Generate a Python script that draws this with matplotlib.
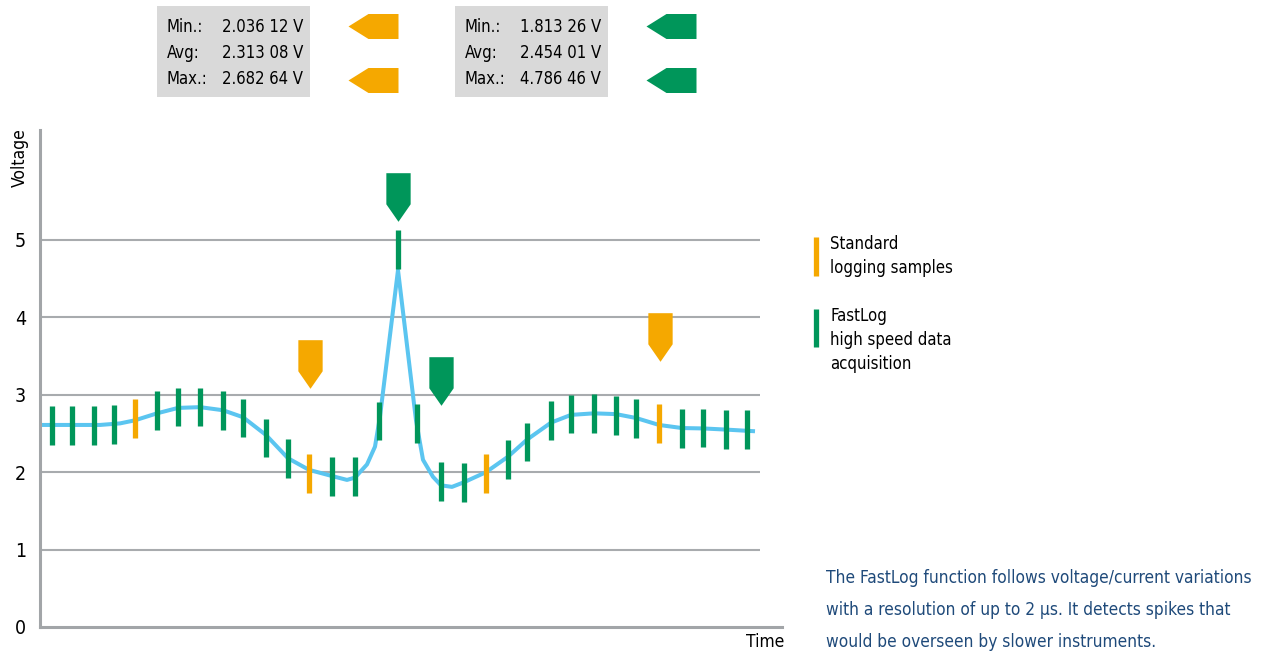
import matplotlib.pyplot as plt
from matplotlib.path import Path
from matplotlib.patches import Rectangle

plt.rcParams['font.family'] = ['DejaVu Sans']
plt.rcParams['font.stretch'] = 'condensed'

ORANGE = '#f5a800'
GREEN = '#00965a'
BLUE = '#5bc5f0'
GRID = '#a8abae'
NAVY = '#1f4a7a'

# measured signal (time in arbitrary units, voltage in V)
curve_t = [0, 2, 4, 6, 8, 9.5, 11.7, 13.8, 16.0, 18.3, 20.3, 22.6, 24.8, 26.9,
           29.2, 30.7, 31.5, 32.7, 33.5, 34.0, 35.8, 37.6, 38.3, 39.3, 40.1,
           41.2, 42.4, 44.6, 46.8, 48.7, 51.1, 53.1, 55.4, 57.6, 59.6, 61.9,
           64.2, 66.3, 68.6, 71.3]
curve_v = [2.61, 2.61, 2.61, 2.61, 2.63, 2.67, 2.76, 2.83, 2.84, 2.80, 2.71,
           2.48, 2.18, 2.03, 1.95, 1.90, 1.93, 2.10, 2.33, 2.72, 4.61, 2.67,
           2.16, 1.94, 1.83, 1.81, 1.87, 2.00, 2.20, 2.42, 2.64, 2.74, 2.76,
           2.75, 2.70, 2.61, 2.57, 2.565, 2.55, 2.53]

# standard logging samples
std_t = [9.5, 26.9, 44.6, 61.9]
std_v = [2.69, 1.98, 1.98, 2.63]

# FastLog samples
fast_t = [1.2, 3.2, 5.4, 7.4, 11.7, 13.8, 16.0, 18.3, 20.3, 22.6, 24.8, 29.2,
          31.5, 33.9, 35.8, 37.7, 40.1, 42.4, 46.8, 48.7, 51.1, 53.1, 55.4,
          57.6, 59.6, 64.2, 66.3, 68.6, 70.7]
fast_v = [2.60, 2.60, 2.60, 2.62, 2.80, 2.84, 2.84, 2.80, 2.70, 2.44, 2.18,
          1.94, 1.94, 2.66, 4.88, 2.63, 1.88, 1.87, 2.16, 2.39, 2.67, 2.75,
          2.76, 2.73, 2.69, 2.56, 2.57, 2.55, 2.55]

# min / max flags
std_flag_t = [27.0, 62.0]
std_flag_v = [3.40, 3.75]
fast_flag_t = [35.8, 40.1]
fast_flag_v = [5.55, 3.18]

std_stats = [('Min.:', '2.036 12 V'), ('Avg:', '2.313 08 V'), ('Max.:', '2.682 64 V')]
fast_stats = [('Min.:', '1.813 26 V'), ('Avg:', '2.454 01 V'), ('Max.:', '4.786 46 V')]

yticks = [0, 1, 2, 3, 4, 5]
note = ['The FastLog function follows voltage/current variations',
        'with a resolution of up to 2 \u00b5s. It detects spikes that',
        'would be overseen by slower instruments.']

HALF = 0.25  # half length of a sample bar

W, H = 1263, 654
fig = plt.figure(figsize=(W / 100, H / 100), dpi=100)
ax = fig.add_axes([40 / W, 1 - 627 / H, 742 / W, 497 / H])
ax.set_xlim(0, 74.2)
ax.set_ylim(0, 6.42)

for y in yticks[1:]:
    ax.plot([0, 72], [y, y], color=GRID, lw=1.5, zorder=1, solid_capstyle='butt')

ax.plot(curve_t, curve_v, color=BLUE, lw=2.9, zorder=2, solid_joinstyle='round')
ax.vlines(fast_t, [v - HALF for v in fast_v], [v + HALF for v in fast_v],
          color=GREEN, lw=3.8, zorder=3)
ax.vlines(std_t, [v - HALF for v in std_v], [v + HALF for v in std_v],
          color=ORANGE, lw=3.8, zorder=3)

down = Path([(-0.25, 0.5), (0.25, 0.5), (0.25, -0.14), (0, -0.5), (-0.25, -0.14), (-0.25, 0.5)],
            [Path.MOVETO] + [Path.LINETO] * 4 + [Path.CLOSEPOLY])
ax.plot(std_flag_t, std_flag_v, ls='none', marker=down, ms=35, color=ORANGE, mec='none', zorder=4)
ax.plot(fast_flag_t, fast_flag_v, ls='none', marker=down, ms=35, color=GREEN, mec='none', zorder=4)

for s in ['top', 'right']:
    ax.spines[s].set_visible(False)
for s in ['left', 'bottom']:
    ax.spines[s].set_color('#a2a5a8')
    ax.spines[s].set_linewidth(2.2)
ax.set_xticks([])
ax.set_yticks(yticks)
ax.tick_params(axis='y', length=0, pad=10, labelsize=14)

# overlay in pixel units for texts and header
ov = fig.add_axes([0, 0, 1, 1], zorder=5)
ov.set_xlim(0, W)
ov.set_ylim(H, 0)
ov.axis('off')

ov.text(20, 158, 'Voltage', rotation=90, ha='center', va='center', fontsize=12.5)
ov.text(765, 642, 'Time', ha='center', va='center', fontsize=12.5)

left = Path([(-0.5, 0), (-0.1, 0.25), (0.5, 0.25), (0.5, -0.25), (-0.1, -0.25), (-0.5, 0)],
            [Path.MOVETO] + [Path.LINETO] * 4 + [Path.CLOSEPOLY])
for x0, stats, col in [(157, std_stats, ORANGE), (455, fast_stats, GREEN)]:
    ov.add_patch(Rectangle((x0, 6), 153, 91, color='#d9d9d9', lw=0))
    for i, (lab, val) in enumerate(stats):
        yy = 27 + 26 * i
        ov.text(x0 + 10, yy, lab, ha='left', va='center', fontsize=12)
        ov.text(x0 + 65, yy, val, ha='left', va='center', fontsize=12)
    ov.plot([x0 + 216, x0 + 216], [26, 80], ls='none', marker=left, ms=36, color=col, mec='none')

# legend
ov.plot([816, 816], [237, 276], color=ORANGE, lw=3.8, solid_capstyle='butt')
ov.text(830, 244, 'Standard', va='center', fontsize=12)
ov.text(830, 268, 'logging samples', va='center', fontsize=12)
ov.plot([816, 816], [309, 347], color=GREEN, lw=3.8, solid_capstyle='butt')
ov.text(830, 316, 'FastLog', va='center', fontsize=12)
ov.text(830, 340, 'high speed data', va='center', fontsize=12)
ov.text(830, 364, 'acquisition', va='center', fontsize=12)

for i, line in enumerate(note):
    ov.text(826, 578 + 32 * i, line, va='center', fontsize=12.4, color=NAVY)

fig.savefig('out.png', dpi=100)
